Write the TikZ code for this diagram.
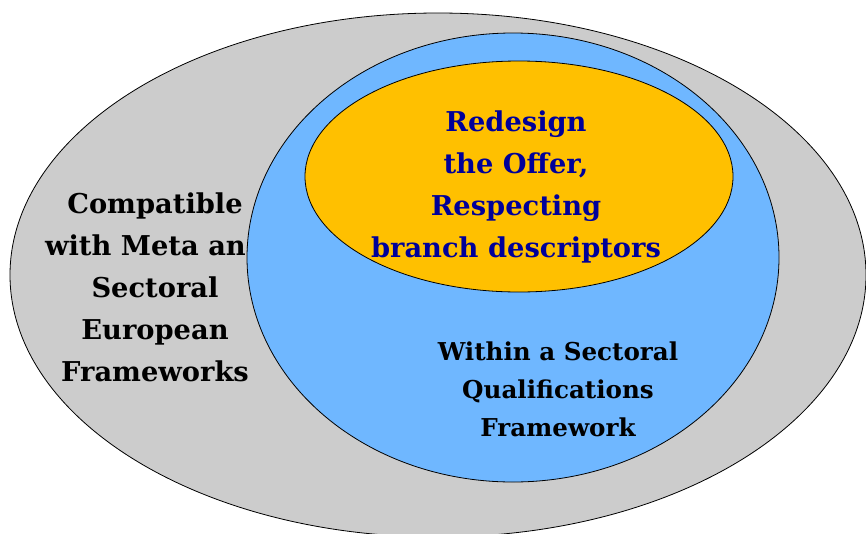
\documentclass[tikz,border=0pt]{standalone}
\usepackage{fontspec}
\setmainfont{DejaVu Serif}
\usetikzlibrary{shapes.geometric}
\definecolor{outergray}{HTML}{CCCCCC}
\definecolor{midblue}{HTML}{6FB7FF}
\definecolor{innerorange}{HTML}{FFC000}
\definecolor{navytext}{HTML}{000099}
\tikzset{
  ring/.style={ellipse, draw=black, line width=0.8pt, inner sep=0pt},
  label/.style={align=center, font=\bfseries\fontsize{27.3}{42}\selectfont, inner sep=0pt}
}
\begin{document}
\begin{tikzpicture}[x=1pt,y=-1pt]
\useasboundingbox (0,0) rectangle (866,533);
\clip (0,0) rectangle (866,533);
\fill[white] (0,0) rectangle (866,533);
\node[ring, fill=outergray, minimum width=856pt, minimum height=524pt] (outer) at (438,275) {};
\node[label, text=black] (outertext) at (155,287) {Compatible\\with Meta and\\Sectoral\\European\\Frameworks};
\node[ring, fill=midblue, minimum width=532pt, minimum height=449pt] (middle) at (513,257.5) {};
\node[label, text=black, font=\bfseries\fontsize{24.6}{38}\selectfont] (middletext) at (558,389) {Within a Sectoral\\Qualifications\\Framework};
\node[ring, fill=innerorange, minimum width=428pt, minimum height=231pt] (inner) at (519,176.5) {};
\node[label, text=navytext] (innertext) at (516,187) {Redesign\\the Offer,\\Respecting\\branch descriptors};
\end{tikzpicture}
\end{document}
